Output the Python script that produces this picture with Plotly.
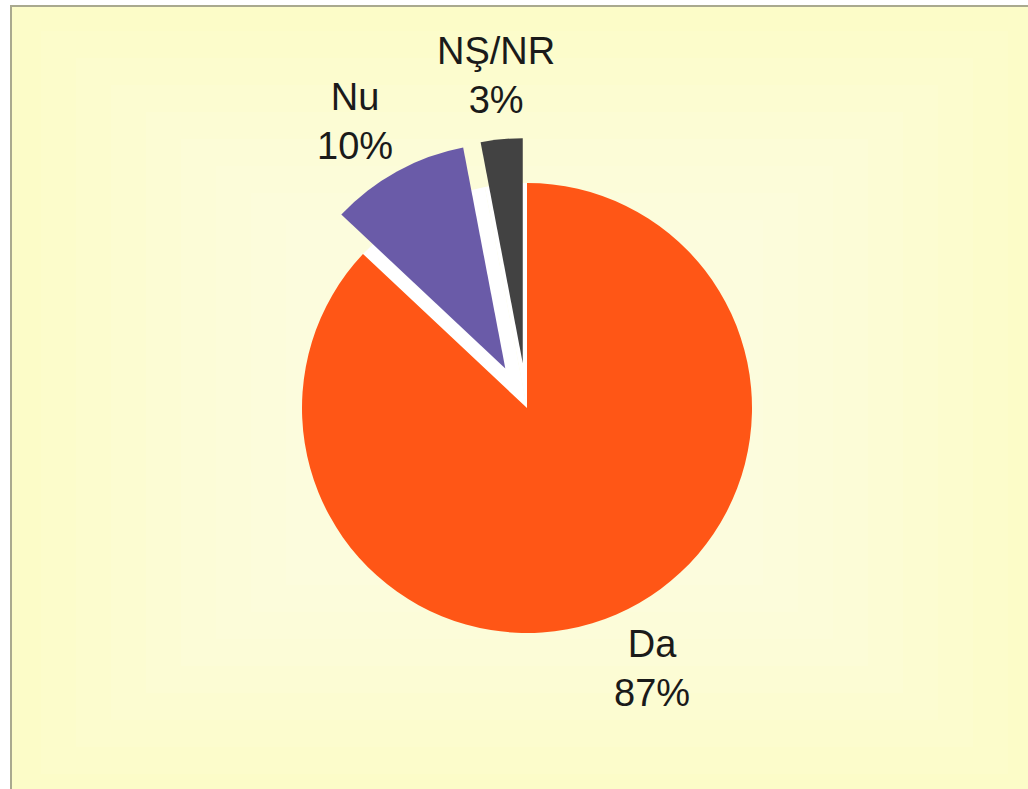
import math
import plotly.graph_objects as go

# date
labels = ["Da", "Nu", "NŞ/NR"]
values = [87, 10, 3]
colors = ["#FF5616", "#6A5BA8", "#424242"]
pulls = [0, 0.2, 0.2]

# mic decalaj unghiular al etichetelor (radiani), ca in original
label_turn = [-0.04, -0.04, 0.0]

W, H = 1028, 789


def px(x):
    return x / W


def py(y):
    return 1 - y / H


# pozitia placintei (centru ~ (527, 408), raza ~225 px)
cx, cy, r = 527, 408, 225
half = r * (1 + max(pulls))
dom_x = [px(cx - half), px(cx + half)]
dom_y = [py(cy + half), py(cy - half)]

fig = go.Figure()

# felii albe in spatele celor trase in afara, pentru golul alb dintre felii
fig.add_trace(go.Pie(
    labels=labels,
    values=values,
    sort=False,
    direction="clockwise",
    rotation=0,
    pull=[max(pulls), 0, 0],
    marker=dict(colors=["rgba(0,0,0,0)", "white", "white"], line=dict(width=0)),
    textinfo="none",
    hoverinfo="skip",
    showlegend=False,
    domain=dict(x=dom_x, y=dom_y),
))

fig.add_trace(go.Pie(
    labels=labels,
    values=values,
    sort=False,
    direction="clockwise",
    rotation=0,
    pull=pulls,
    marker=dict(colors=colors, line=dict(width=0)),
    textinfo="none",
    showlegend=False,
    domain=dict(x=dom_x, y=dom_y),
))

# etichetele, asezate pe bisectoarea fiecarei felii
annotations = []
total = sum(values)
start = 0
for lab, val, p, turn in zip(labels, values, pulls, label_turn):
    mid = (start + val / 2) / total * 2 * math.pi + turn
    start += val
    d = r * (1 + p) + 64
    annotations.append(dict(
        x=px(cx + d * math.sin(mid)), y=py(cy - d * math.cos(mid)),
        xref="paper", yref="paper", xanchor="center", yanchor="middle",
        text=f"{lab}<br>{val}%", showarrow=False,
        font=dict(family="Liberation Sans, Arial", size=38, color="#1a1a1a"),
    ))

# fundal galben cu centru mai deschis
shapes = [dict(type="rect", xref="paper", yref="paper",
               x0=px(11), x1=px(1040), y0=py(800), y1=py(6),
               fillcolor="#FCFCC8", line=dict(color="#A9A98F", width=2), layer="below")]
for i in range(8):
    dx = 30 + i * 35
    dy = 25 + i * 27
    shapes.append(dict(type="rect", xref="paper", yref="paper",
                       x0=px(11 + dx), x1=px(1038 - dx),
                       y0=py(799 - dy), y1=py(6 + dy),
                       fillcolor="white", opacity=0.07, line=dict(width=0), layer="below"))

fig.update_layout(
    width=W,
    height=H,
    margin=dict(l=0, r=0, t=0, b=0),
    paper_bgcolor="white",
    plot_bgcolor="white",
    shapes=shapes,
    annotations=annotations,
)

fig.write_html("out.html", config={"displayModeBar": False},
               post_script="document.body.style.margin='0';")
